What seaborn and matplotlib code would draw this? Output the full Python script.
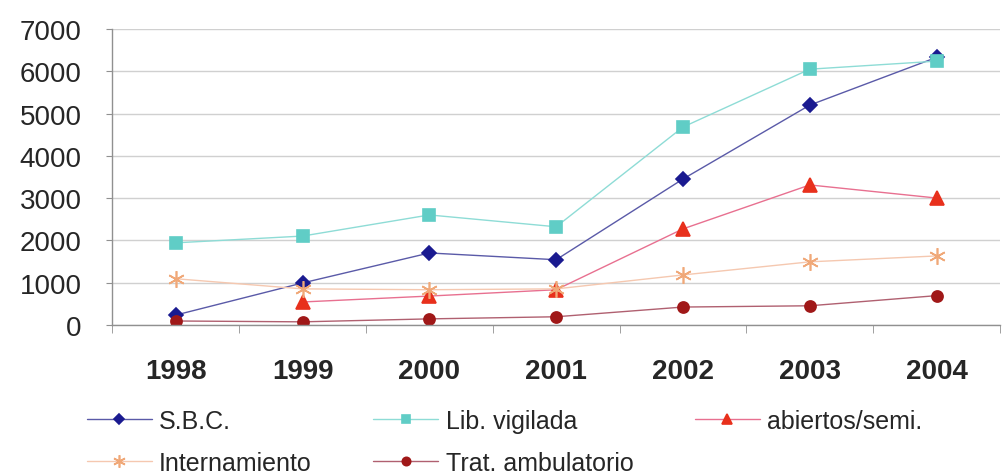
import numpy as np
import pandas as pd
import matplotlib
matplotlib.use("Agg")
import matplotlib.pyplot as plt
import seaborn as sns

years = ["1998", "1999", "2000", "2001", "2002", "2003", "2004"]
sbc = [230, 990, 1700, 1540, 3450, 5200, 6330]
lib_vigilada = [1940, 2100, 2600, 2320, 4680, 6050, 6240]
abiertos = [np.nan, 540, 680, 830, 2270, 3310, 3000]
internamiento = [1090, 850, 830, 850, 1180, 1490, 1630]
trat_amb = [90, 70, 140, 190, 420, 450, 690]

names = ["S.B.C.", "Lib. vigilada", "abiertos/semi.", "Internamiento", "Trat. ambulatorio"]
series = [sbc, lib_vigilada, abiertos, internamiento, trat_amb]

sns.set_style("white")
plt.rcParams['font.family'] = ['Liberation Sans', 'DejaVu Sans']

fig = plt.figure(figsize=(10.03, 4.77), dpi=100)
ax = fig.add_axes([0.112, 0.317, 0.885, 0.62])

styles = [
    dict(line="#5a5aa8", mfc="#1a1a90", mec="#1a1a90", marker="D", ms=7),
    dict(line="#8edcd6", mfc="#60cdc6", mec="#60cdc6", marker="s", ms=8),
    dict(line="#e87090", mfc="#e8301c", mec="#e8301c", marker="^", ms=10),
    dict(line="#f5c8b0", mfc="none", mec="#f0a878", marker=(6, 2, 0), ms=12),
    dict(line="#b06070", mfc="#a01818", mec="#a01818", marker="o", ms=8),
]

x = np.arange(len(years))
for name, vals, st in zip(names, series, styles):
    df = pd.DataFrame({"x": x, "y": vals}).dropna()
    sns.lineplot(data=df, x="x", y="y", ax=ax, color=st["line"], lw=1.0,
                 marker=st["marker"], markersize=st["ms"],
                 markerfacecolor=st["mfc"], markeredgecolor=st["mec"],
                 markeredgewidth=1.2, label=name, legend=False)

ax.set_xlim(-0.5, 6.5)
ax.set_ylim(0, 7000)
ax.set_yticks(range(0, 7001, 1000))
ax.set_yticklabels([str(v) for v in range(0, 7001, 1000)], fontsize=20)
ax.yaxis.grid(True, color="#d0d0d0", lw=1)
ax.set_xticks(x)
ax.set_xticklabels(years, fontsize=20, fontweight="bold")
ax.set_xticks(np.arange(-0.5, 7.0, 1.0), minor=True)
ax.tick_params(axis="x", which="major", length=0, pad=24)
ax.tick_params(axis="x", which="minor", length=6, color="#909090", direction="out", bottom=True)
ax.tick_params(axis="y", length=4, color="#909090", direction="out", left=True, pad=18)
ax.set_xlabel("")
ax.set_ylabel("")
for s in ["top", "right"]:
    ax.spines[s].set_visible(False)
for s in ["left", "bottom"]:
    ax.spines[s].set_color("#909090")
    ax.spines[s].set_linewidth(1)

handles, labels = ax.get_legend_handles_labels()
order = [0, 3, 1, 4, 2]
fig.legend([handles[i] for i in order], [labels[i] for i in order],
           loc="lower left", bbox_to_anchor=(0.064, -0.045), ncol=3,
           frameon=False, fontsize=18, handlelength=2.6, columnspacing=2.45,
           handletextpad=0.3, labelspacing=0.72, markerscale=0.75)

fig.savefig("out.png", dpi=100)
